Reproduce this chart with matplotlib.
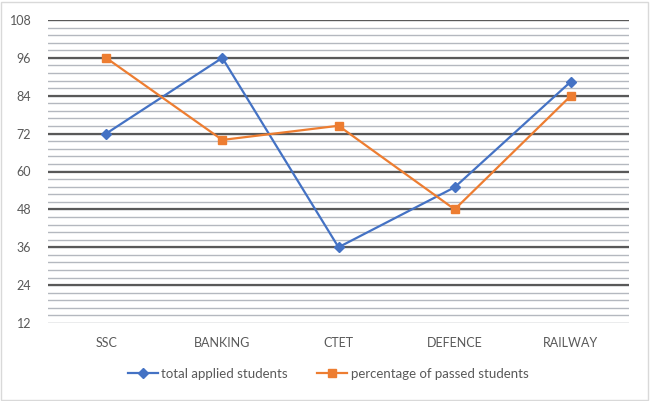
import numpy as np
import matplotlib.pyplot as plt
from matplotlib.patches import Rectangle

categories = ['SSC', 'BANKING', 'CTET', 'DEFENCE', 'RAILWAY']
total_applied = [72, 96, 36, 55, 88.5]
pct_passed = [96, 70, 74.5, 48, 84]

yticks = [12, 24, 36, 48, 60, 72, 84, 96, 108]

plt.rcParams['font.family'] = ['Lato', 'DejaVu Sans']

fig = plt.figure(figsize=(6.5, 4.01), dpi=100)
ax = fig.add_axes([48/650, 1 - 323/401, 581/650, 303/401])

x = np.arange(len(categories))

# gridlines, excel style
for v in np.arange(12, 108.01, 2.4):
    ax.axhline(v, color='#B4B8BF', lw=1.0, zorder=0)
for v in yticks[1:]:
    ax.axhline(v, color='#595959', lw=1.6, zorder=1)
ax.axhline(12, color='#D9D9D9', lw=1.0, zorder=1)

ax.plot(x, total_applied, color='#4472C4', lw=1.6, marker='D', ms=5,
        label='total applied students', zorder=3)
ax.plot(x, pct_passed, color='#ED7D31', lw=1.6, marker='s', ms=6,
        label='percentage of passed students', zorder=3)

ax.set_xlim(-0.5, len(categories) - 0.5)
ax.set_ylim(12, 108)
ax.set_xticks(x)
ax.set_xticklabels(categories)
ax.set_yticks(yticks)
ax.tick_params(axis='both', length=0, colors='#595959', labelsize=9)
ax.tick_params(axis='y', pad=12)
ax.tick_params(axis='x', pad=10)
for s in ax.spines.values():
    s.set_visible(False)

leg = fig.legend(loc='center', bbox_to_anchor=(328/650, 1 - 374/401), ncol=2,
                 frameon=False, fontsize=9.5, handlelength=2.3, handletextpad=0.25,
                 columnspacing=2.2)
for t in leg.get_texts():
    t.set_color('#595959')

fig.patches.append(Rectangle((1/650, 1/401), 647/650, 398/401, transform=fig.transFigure,
                             fill=False, edgecolor='#D9D9D9', lw=1.0))

fig.savefig('out.png', dpi=100)
